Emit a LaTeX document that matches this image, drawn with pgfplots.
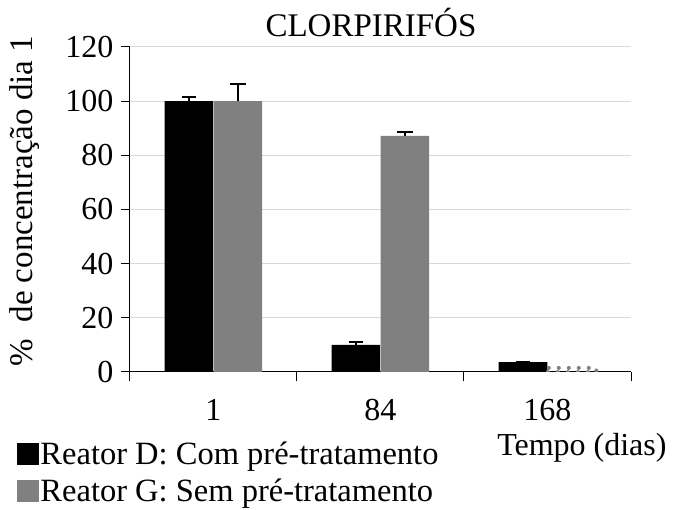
\documentclass[border=0pt]{standalone}
\usepackage{pgfplots}
\pgfplotsset{compat=1.18}
\usepackage{fontspec}
\setmainfont{Liberation Serif}
\definecolor{barg}{HTML}{808080}
\definecolor{gridc}{HTML}{D9D9D9}
\begin{document}
\begin{tikzpicture}
\begin{axis}[
  scale only axis, width=501pt, height=325pt,
  ymin=0, ymax=120, ytick={0,20,...,120},
  xmin=-0.5, xmax=2.5,
  xtick={-0.5,0.5,1.5,2.5}, xticklabels={},
  extra x ticks={0,1,2}, extra x tick labels={1,84,168},
  extra x tick style={major tick length=0pt, xticklabel style={yshift=-27pt, inner sep=0pt}},
  axis lines*=left, axis line style={-, line width=1pt, black},
  tick align=outside, major tick length=9pt,
  tick style={black, line width=1pt},
  ymajorgrids, grid style={gridc, line width=1pt},
  /pgf/number format/assume math mode=true,
  tick label style={font=\fontsize{32}{36}\selectfont},
  yticklabel style={xshift=-4pt},
  title={CLORPIRIFÓS}, title style={font=\fontsize{33}{38}\selectfont, at={(rel axis cs:0.481,1.015)}, anchor=base},
  xlabel={Tempo (dias)}, xlabel style={font=\fontsize{32}{36}\selectfont, inner sep=0pt, at={(rel axis cs:0.902,-0.232)}, anchor=center},
  ylabel={\%\ \ de concentração dia 1}, ylabel style={font=\fontsize{33}{38}\selectfont, at={(rel axis cs:-0.2096,0.526)}, anchor=center},
  ybar, bar width=48.5pt,
  legend style={draw=none, fill=none, font=\fontsize{32.5}{37}\selectfont, at={(rel axis cs:-0.231,-0.205)}, anchor=north west,
    legend cell align=left, row sep=11pt, nodes={inner sep=1pt},
    /tikz/every even column/.style={column sep=3pt}},
  legend image code/.code={\fill[#1, draw=none] (0pt,-11pt) rectangle (22pt,11pt);},
]
\addplot[fill=black, draw=none, bar shift=-24.5pt, forget plot,
  error bars/.cd, y dir=plus, y explicit,
  error bar style={black, line width=1.5pt}, error mark options={rotate=90, mark size=7pt, line width=1.5pt, black}]
  coordinates {(0,100) +- (0,1.5) (1,10) +- (0,1.0) (2,3.6) +- (0,0.3)};
\addplot[fill=barg, draw=none, bar shift=24.5pt, forget plot,
  error bars/.cd, y dir=plus, y explicit,
  error bar style={black, line width=1.5pt}, error mark options={rotate=90, mark size=8pt, line width=1.5pt, black}]
  coordinates {(0,100) +- (0,6.4) (1,87.2) +- (0,1.4)};
\addplot[fill=none, draw=barg, bar shift=24.5pt, line width=4pt, line cap=round, dash pattern=on 0pt off 10pt, forget plot]
  coordinates {(2,1.5)};
\addlegendimage{fill=black, draw=none}
\addlegendentry{Reator D: Com pré-tratamento}
\addlegendimage{fill=barg, draw=none}
\addlegendentry{Reator G: Sem pré-tratamento}
\end{axis}
\pgfresetboundingbox
\useasboundingbox ([xshift=-130pt,yshift=-138pt]current axis.south west) rectangle ++(673pt,510pt);
\end{tikzpicture}
\end{document}
